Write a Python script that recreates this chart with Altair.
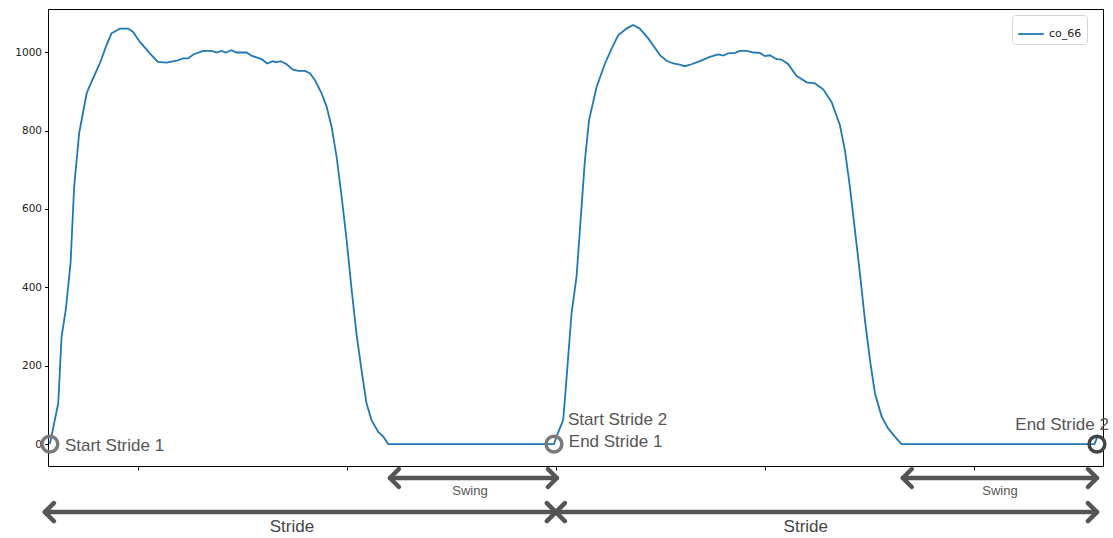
import altair as alt
import pandas as pd

# ---- line data (frame index, value) ----
frame = [57.9, 61.9, 63.5, 65.5, 67.8, 69.5, 71.9, 75.5, 77.8, 81.8, 85.0, 87.4, 91.4, 95.4, 97.6,
         101.0, 105.7, 109.6, 113.7, 118.5, 121.7, 124.1, 126.5, 131.2, 135.3, 137.7, 140.0, 142.1,
         144.8, 147.2, 152.0, 154.4, 159.2, 161.9, 164.5, 166.0, 168.3, 171.2, 174.0, 176.7, 179.9,
         182.3, 184.7, 187.9, 190.3, 192.7, 195.1, 197.5, 199.9, 202.3, 204.6, 207.0, 209.4, 211.8,
         215.0, 217.4, 219.8, 299.1,
         300.3, 303.5, 304.8, 307.5, 309.9, 312.3, 313.9, 315.9, 319.5, 323.5, 326.7, 329.8, 333.8,
         337.0, 340.2, 344.2, 348.2, 349.8, 353.0, 356.2, 358.6, 361.7, 364.9, 368.9, 373.7, 377.7,
         380.1, 382.5, 385.7, 388.1, 391.3, 394.5, 397.6, 400.0, 402.4, 405.6, 408.0, 411.2, 415.2,
         416.8, 420.0, 424.0, 427.9, 431.9, 435.9, 438.3, 440.7, 443.1, 445.5, 447.9, 450.3, 452.7,
         455.9, 459.0, 462.2, 465.4, 557.7, 558.9]
co_66 = [0, 104, 274, 342, 462, 656, 793, 895, 924, 971, 1018, 1048, 1060, 1060, 1052,
         1026, 997, 975, 973, 978, 984, 984, 994, 1003, 1003, 999, 1003, 999,
         1005, 999, 999, 991, 982, 971, 977, 974, 977, 969, 956, 952, 952,
         946, 929, 895, 861, 809, 733, 631, 520, 393, 282, 189, 104, 61,
         31, 19, 0, 0,
         19, 61, 146, 333, 427, 605, 724, 827, 911, 971, 1009, 1043, 1060,
         1069, 1060, 1035, 1005, 992, 978, 971, 969, 964, 969, 977, 988, 994,
         991, 997, 998, 1003, 1003, 999, 998, 990, 992, 982, 981, 969, 939,
         934, 923, 920, 905, 873, 814, 750, 656, 546, 435, 316, 214, 129,
         70, 40, 19, 0, 0, 15]
assert len(frame) == len(co_66)

# ---- annotation data ----
circle_x = [57.9, 299.1, 558.9]
circle_c = ["#7a7a7a", "#7a7a7a", "#444444"]

label_text = ["Start Stride 1", "Start Stride 2", "End Stride 1"]
label_x = [65.1, 305.8, 306.2]
label_y = [-5, 61, 5]

end_text = ["End Stride 2"]
end_x = [564.6]
end_y = [48]

arrow_x1 = [220.6, 466.0, 55.5, 300.0]
arrow_x2 = [300.5, 558.9, 300.0, 558.9]
arrow_y = [-86.7, -86.7, -173.5, -173.5]

swing_text = ["Swing", "Swing"]
swing_x = [258.9, 512.5]
swing_y = [-120, -120]

stride_text = ["Stride", "Stride"]
stride_x = [173.7, 419.6]
stride_y = [-212, -212]

x_ticks = [100, 200, 300, 400, 500]
y_ticks = [0, 200, 400, 600, 800, 1000]

X_DOM = [57.0, 561.8]
Y_DOM = [-56, 1110]

xs = alt.Scale(domain=X_DOM, nice=False, zero=False)
ys = alt.Scale(domain=Y_DOM, nice=False, zero=False)

line_df = pd.DataFrame({"frame": frame, "value": co_66, "series": ["co_66"] * len(frame)})

line = alt.Chart(line_df).mark_line(strokeWidth=1.8, clip=False).encode(
    x=alt.X("frame:Q", scale=xs,
            axis=alt.Axis(values=x_ticks, labels=False, title=None, grid=False, domain=False,
                          tickSize=4, tickColor="#000", tickWidth=1)),
    y=alt.Y("value:Q", scale=ys,
            axis=alt.Axis(values=y_ticks, format="d", title=None, grid=False, domain=False,
                          tickSize=3.5, tickColor="#000", labelPadding=3,
                          labelFont="DejaVu Sans", labelFontSize=10.5, labelColor="#222")),
    color=alt.Color("series:N", scale=alt.Scale(range=["#1f77b4"]),
                    legend=alt.Legend(title=None, orient="none", legendX=964, legendY=6,
                                      symbolType="stroke", symbolSize=650, symbolStrokeWidth=1.8,
                                      fillColor="white", strokeColor="#d5d5d5", padding=5,
                                      cornerRadius=3, labelFontSize=11, labelFont="DejaVu Sans",
                                      labelColor="#222")),
)

circ_df = pd.DataFrame({"x": circle_x, "y": [0] * 3, "c": circle_c})
circles = alt.Chart(circ_df).mark_point(shape="circle", size=250, strokeWidth=3.5,
                                        filled=False, opacity=1).encode(
    x=alt.X("x:Q", scale=xs), y=alt.Y("y:Q", scale=ys),
    stroke=alt.Stroke("c:N", scale=None))

lab_df = pd.DataFrame({"t": label_text, "x": label_x, "y": label_y})
labels = alt.Chart(lab_df).mark_text(align="left", baseline="middle", fontSize=17,
                                     font="Liberation Sans", color="#555555").encode(
    x=alt.X("x:Q", scale=xs), y=alt.Y("y:Q", scale=ys), text="t:N")

end_df = pd.DataFrame({"t": end_text, "x": end_x, "y": end_y})
end_lab = alt.Chart(end_df).mark_text(align="right", baseline="middle", fontSize=17,
                                      font="Liberation Sans", color="#555555").encode(
    x=alt.X("x:Q", scale=xs), y=alt.Y("y:Q", scale=ys), text="t:N")

arr_df = pd.DataFrame({"x": arrow_x1, "x2": arrow_x2, "y": arrow_y})
shafts = alt.Chart(arr_df).mark_rule(strokeWidth=4.5, color="#555555", strokeCap="round").encode(
    x=alt.X("x:Q", scale=xs), x2="x2:Q", y=alt.Y("y:Q", scale=ys))

left_heads = alt.Chart(arr_df).mark_point(shape="M1,-1L0,0L1,1", size=324, filled=False,
                                          strokeWidth=4.5, color="#555555", opacity=1,
                                          strokeCap="round", strokeJoin="round").encode(
    x=alt.X("x:Q", scale=xs), y=alt.Y("y:Q", scale=ys))
right_heads = alt.Chart(arr_df).mark_point(shape="M-1,-1L0,0L-1,1", size=324, filled=False,
                                           strokeWidth=4.5, color="#555555", opacity=1,
                                           strokeCap="round", strokeJoin="round").encode(
    x=alt.X("x2:Q", scale=xs), y=alt.Y("y:Q", scale=ys))

sw_df = pd.DataFrame({"t": swing_text, "x": swing_x, "y": swing_y})
swing = alt.Chart(sw_df).mark_text(align="center", baseline="middle", fontSize=13,
                                   font="Liberation Sans", color="#555555").encode(
    x=alt.X("x:Q", scale=xs), y=alt.Y("y:Q", scale=ys), text="t:N")

st_df = pd.DataFrame({"t": stride_text, "x": stride_x, "y": stride_y})
stride = alt.Chart(st_df).mark_text(align="center", baseline="middle", fontSize=17,
                                    font="Liberation Sans", color="#444444").encode(
    x=alt.X("x:Q", scale=xs), y=alt.Y("y:Q", scale=ys), text="t:N")

chart = alt.layer(line, circles, labels, end_lab, shafts, left_heads, right_heads, swing, stride).properties(
    width=1055, height=457,
    autosize=alt.AutoSizeParams(type="none"),
    padding={"left": 48, "top": 9, "right": 10, "bottom": 72},
    background="white",
).configure_view(stroke="#000", strokeWidth=1)

chart.save("out.html", embed_options={"renderer": "svg", "actions": False})
